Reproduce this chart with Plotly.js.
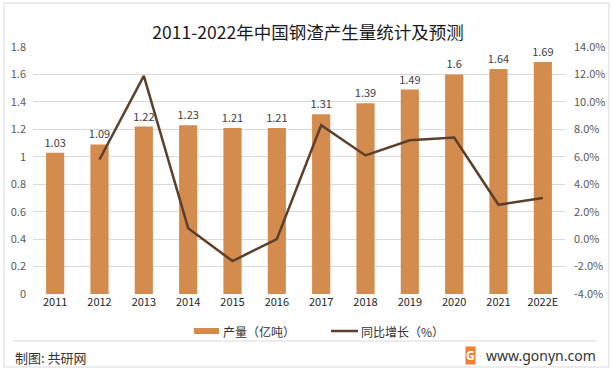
<!DOCTYPE html>
<html>
<head>
<meta charset="utf-8">
<script src="https://cdn.plot.ly/plotly-3.0.1.min.js"></script>
<style>html,body{margin:0;padding:0;background:#fff;}#chart{width:613px;height:372px;}</style>
</head>
<body>
<div id="chart"></div>
<script>
const years = ['2011','2012','2013','2014','2015','2016','2017','2018','2019','2020','2021','2022E'];
const output = [1.03, 1.09, 1.22, 1.23, 1.21, 1.21, 1.31, 1.39, 1.49, 1.6, 1.64, 1.69];
const outputLabels = ['1.03','1.09','1.22','1.23','1.21','1.21','1.31','1.39','1.49','1.6','1.64','1.69'];
const growth = [null, 5.8, 11.9, 0.8, -1.6, 0.0, 8.3, 6.1, 7.2, 7.4, 2.5, 3.0];
const leftTicks = [0,0.2,0.4,0.6,0.8,1,1.2,1.4,1.6,1.8];
const rightTicks = [-4,-2,0,2,4,6,8,10,12,14];
const rightTickText = ['-4.0%','-2.0%','0.0%','2.0%','4.0%','6.0%','8.0%','10.0%','12.0%','14.0%'];
const seriesNames = ['产量（亿吨）', '同比增长（%）'];

const BAR_COLOR = '#D48B4E';
const LINE_COLOR = '#5C402C';
const FONT = "'Noto Sans CJK SC', 'Noto Sans', sans-serif";
const L = 33, R = 565, T = 47, B = 294, W = 613, H = 372;
const px = x => (x - L) / (R - L);
const py = y => (B - y) / (B - T);

const traces = [
  {
    type: 'bar', x: years, y: output, name: seriesNames[0],
    marker: {color: BAR_COLOR},
    text: outputLabels, textposition: 'outside', cliponaxis: false, constraintext: 'none',
    textfont: {size: 11, color: '#404040', family: FONT},
    yaxis: 'y', showlegend: false
  },
  {
    type: 'scatter', mode: 'lines', x: years, y: growth, name: seriesNames[1],
    line: {color: LINE_COLOR, width: 2.5},
    yaxis: 'y2', connectgaps: false, showlegend: false
  }
];

const layout = {
  width: W, height: H,
  margin: {l: L, r: W - R, t: T, b: H - B},
  paper_bgcolor: '#fff', plot_bgcolor: '#fff',
  font: {family: FONT, color: '#595959', size: 11},
  showlegend: false,
  bargap: 0.59,
  title: {text: '2011-2022年中国钢渣产生量统计及预测', font: {size: 17.5, color: '#1a1a1a', family: FONT},
          x: 308 / W, xref: 'container', xanchor: 'center', y: 1 - 33 / H, yref: 'container', yanchor: 'middle'},
  xaxis: {type: 'category', showgrid: false, zeroline: false, showline: false, ticks: '',
          tickfont: {size: 11, color: '#262626'}},
  yaxis: {range: [0, 1.8], tickvals: leftTicks, showgrid: true, gridcolor: '#D9D9D9', gridwidth: 1,
          zeroline: false, showline: false, ticks: '', ticklabelstandoff: 6,
          tickfont: {size: 11, color: '#595959'}},
  yaxis2: {range: [-4, 14], overlaying: 'y', side: 'right', tickvals: rightTicks, ticktext: rightTickText,
           showgrid: false, zeroline: false, showline: false, ticks: '', ticklabelstandoff: 8,
           tickfont: {size: 11, color: '#595959'}},
  shapes: [
    {type: 'rect', xref: 'paper', yref: 'paper', x0: px(4), x1: px(609), y0: py(367), y1: py(3),
     line: {color: '#D9D9D9', width: 1}, fillcolor: 'rgba(0,0,0,0)'},
    {type: 'line', xref: 'paper', yref: 'paper', x0: px(13), x1: px(597), y0: py(341), y1: py(341),
     line: {color: '#D9D9D9', width: 1}},
    // legend symbols
    {type: 'rect', xref: 'paper', yref: 'paper', x0: px(194), x1: px(219), y0: py(334), y1: py(328),
     line: {width: 0}, fillcolor: BAR_COLOR},
    {type: 'line', xref: 'paper', yref: 'paper', x0: px(331), x1: px(358), y0: py(331), y1: py(331),
     line: {color: LINE_COLOR, width: 2.5}}
  ],
  annotations: [
    {xref: 'paper', yref: 'paper', x: px(221), y: py(331), xanchor: 'left', yanchor: 'middle',
     text: seriesNames[0], showarrow: false, font: {size: 12, color: '#333', family: FONT}},
    {xref: 'paper', yref: 'paper', x: px(359), y: py(331), xanchor: 'left', yanchor: 'middle',
     text: seriesNames[1], showarrow: false, font: {size: 12, color: '#333', family: FONT}},
    {xref: 'paper', yref: 'paper', x: px(13), y: py(357), xanchor: 'left', yanchor: 'middle',
     text: '制图: 共研网', showarrow: false, font: {size: 13, color: '#333', family: FONT}},
    {xref: 'paper', yref: 'paper', x: px(598), y: py(355), xanchor: 'right', yanchor: 'middle',
     text: 'www.gonyn.com', showarrow: false, font: {size: 14, color: '#333', family: "'Noto Sans', sans-serif"}},
    {xref: 'paper', yref: 'paper', x: px(470.5), y: py(355), xanchor: 'center', yanchor: 'middle',
     text: '<b>G</b>', showarrow: false, bgcolor: '#EE7F33', borderpad: 0,
     font: {size: 12, color: '#fff', family: "'Noto Sans', sans-serif"}}
  ]
};

Plotly.newPlot('chart', traces, layout, {displayModeBar: false, staticPlot: true});
</script>
</body>
</html>
